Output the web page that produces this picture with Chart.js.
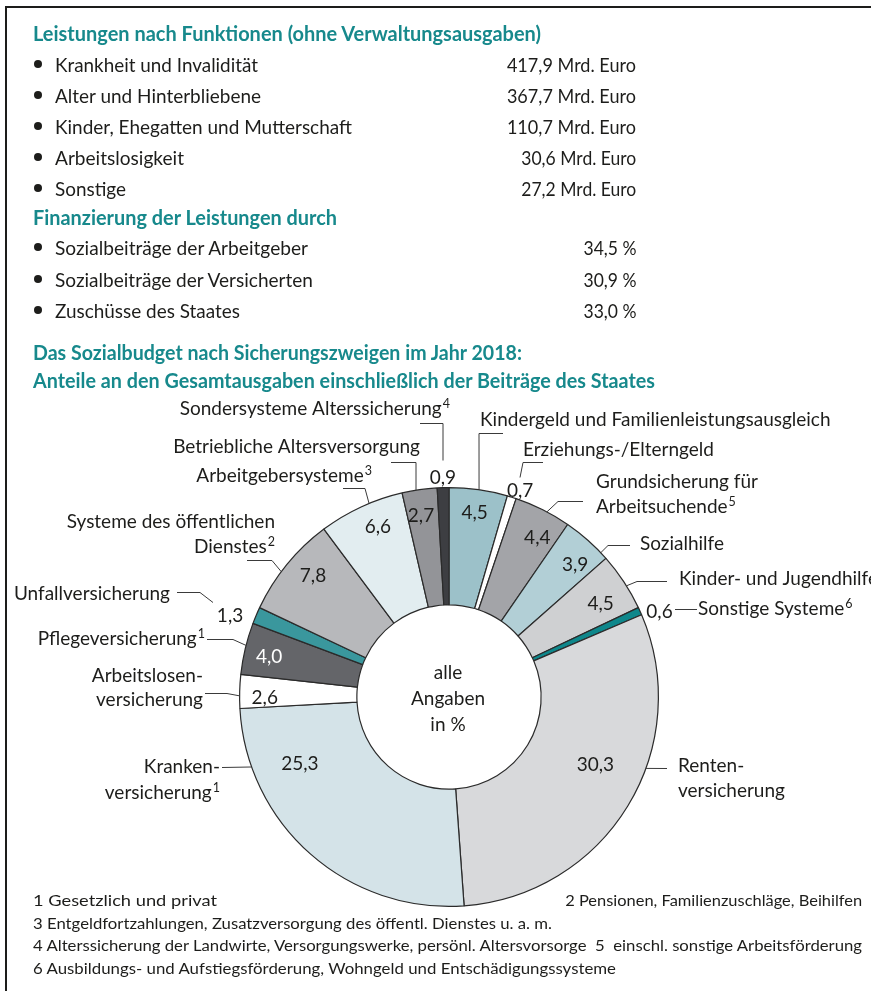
<!DOCTYPE html>
<html><head><meta charset="utf-8">
<script src="https://cdn.jsdelivr.net/npm/chart.js@4.4.0/dist/chart.umd.min.js"></script>
<style>
html,body{margin:0;padding:0;background:#fff;}
#wrap{position:relative;width:871px;height:991px;overflow:hidden;font-family:Lato,"Noto Sans",sans-serif;color:#1d1d1b;}
#c{position:absolute;left:0;top:0;}
.t{position:absolute;white-space:pre;line-height:24px;height:24px;font-size:20px;transform-origin:left center;}
.t.r{transform-origin:right center;}
.t.h{color:#17898c;font-weight:700;}
.t.f{font-size:16px;line-height:20px;height:20px;}
.b{position:absolute;width:8px;height:8px;border-radius:50%;background:#1d1d1b;}
.fl{position:absolute;left:5px;top:6px;width:2px;height:985px;background:#1d1d1b;}
.ft{position:absolute;left:5px;top:6px;width:866px;height:2px;background:#1d1d1b;}
</style></head>
<body><div id="wrap"><div class="fl"></div><div class="ft"></div><canvas id="c" width="871" height="991"></canvas></div>
<script>
// ---- data ----
const functionNames = ['Krankheit und Invalidität','Alter und Hinterbliebene','Kinder, Ehegatten und Mutterschaft','Arbeitslosigkeit','Sonstige'];
const functionValues = [417.9, 367.7, 110.7, 30.6, 27.2];
const financingNames = ['Sozialbeiträge der Arbeitgeber','Sozialbeiträge der Versicherten','Zuschüsse des Staates'];
const financingValues = [34.5, 30.9, 33.0];
const categories = [
 'Kindergeld und Familienleistungsausgleich','Erziehungs-/Elterngeld','Grundsicherung für\nArbeitsuchende^5',
 'Sozialhilfe','Kinder- und Jugendhilfe','Sonstige Systeme^6','Renten-\nversicherung','Kranken-\nversicherung^1',
 'Arbeitslosen-\nversicherung','Pflegeversicherung^1','Unfallversicherung','Systeme des öffentlichen\nDienstes^2',
 'Arbeitgebersysteme^3','Betriebliche Altersversorgung','Sondersysteme Alterssicherung^4'];
const shares = [4.5, 0.7, 4.4, 3.9, 4.5, 0.6, 30.3, 25.3, 2.6, 4.0, 1.3, 7.8, 6.6, 2.7, 0.9];
const titles = ['Leistungen nach Funktionen (ohne Verwaltungsausgaben)','Finanzierung der Leistungen durch',
 'Das Sozialbudget nach Sicherungszweigen im Jahr 2018:','Anteile an den Gesamtausgaben einschließlich der Beiträge des Staates'];
const footnotes = ['1 Gesetzlich und privat','2 Pensionen, Familienzuschläge, Beihilfen',
 '3 Entgeldfortzahlungen, Zusatzversorgung des öffentl. Dienstes u. a. m.',
 '4 Alterssicherung der Landwirte, Versorgungswerke, persönl. Altersvorsorge  5  einschl. sonstige Arbeitsförderung',
 '6 Ausbildungs- und Aufstiegsförderung, Wohngeld und Entschädigungssysteme'];
const centerText = ['alle','Angaben','in %'];

// ---- styles / layout ----
const sliceColors = ['#9cc1c9','#ffffff','#a3a4a8','#b2cfd6','#cfd0d2','#0e878b','#d8d9db','#d4e3e8',
 '#ffffff','#646569','#3a979d','#b7b8bb','#e2edf0','#939498','#3d3e42'];
const valueColors = shares.map((v,i)=> i===9 ? '#ffffff' : '#1d1d1b');
const valueFrac = [0.49,1.12,0.65,0.65,0.61,1.52,0.44,0.77,0.32,0.44,-0.06,0.586,0.588,0.43,0.51];
const valueRad  = [0.886,1.043,0.87,0.873,0.85,1.084,0.77,0.78,0.88,0.88,1.115,0.87,0.88,0.876,1.048];
const labelPos = [ // [dx, dy(baseline), align, lineGap] relative to the doughnut centre
 [31,-271,'left',25],[74,-241,'left',25],[147,-209,'left',25],[191,-147,'left',25],[230,-112,'left',25],
 [249,-82,'left',25],[229,75,'left',25],[-229,76,'right',26],[-246,-15,'right',24],[-244,-52,'right',25],
 [-279,-97,'right',25],[-174,-169,'right',25],[-77,-215,'right',25],[-29,-244,'right',25],[1,-282,'right',25]];
const leaderPaths = [
 [{arc:0.51},[30,-264],[54,-264]],
 [[71,-220],[74,-235],[94,-235]],
 [{arc:0.58},[109,-196],[134,-196]],
 [{arc:0.85},[159,-152],[181,-152]],
 [{arc:0.58},[188,-116],[218,-116]],
 [[226,-88],[248,-88]],
 [{arc:0.395},[218,71]],
 [{arc:0.82},[-227,70]],
 [{arc:0.37},[-222,-4],[-244,-4]],
 [{arc:0.56},[-216,-58],[-242,-58]],
 [[-236,-95],[-249,-105],[-272,-105]],
 [{arc:0.41},[-177,-137],[-202,-137]],
 [{arc:0.60},[-84,-209],[-106,-209]],
 [{arc:0.40},[-33,-235],[-58,-235]],
 [[-6,-237],[-6,-274],[-29,-274]]];

const fmt = v => v.toFixed(1).replace('.', ',');

// ---- HTML text ----
const wrap = document.getElementById('wrap');
function addText(txt, cls, y, opts){
  const d = document.createElement('div');
  d.className = 't ' + cls; d.textContent = txt;
  const h = cls.includes('f') ? 20 : 24;
  d.style.top = (y - h/2) + 'px';
  if (opts.right !== undefined) d.style.right = (871 - opts.right) + 'px';
  else d.style.left = opts.left + 'px';
  if (opts.w) d.dataset.w = opts.w;
  wrap.appendChild(d);
}
function addBullet(y){ const b=document.createElement('div'); b.className='b'; b.style.left='34px'; b.style.top=(y-4)+'px'; wrap.appendChild(b); }
const fnY = [64,95,126,157,188], fnW = [203,206,297,129,71];
const fiY = [247,279,310], fiW = [253,258,185];
addText(titles[0],'h',33,{left:33,w:508});
functionNames.forEach((n,i)=>{ addBullet(fnY[i]); addText(n,'',fnY[i],{left:55,w:fnW[i]});
  addText(fmt(functionValues[i])+' Mrd. Euro','r',fnY[i],{right:636,w:i<3?129:115}); });
addText(titles[1],'h',217,{left:33,w:304});
financingNames.forEach((n,i)=>{ addBullet(fiY[i]); addText(n,'',fiY[i],{left:55,w:fiW[i]});
  addText(fmt(financingValues[i])+' %','r',fiY[i],{right:636,w:53}); });
addText(titles[2],'h',352,{left:33,w:489});
addText(titles[3],'h',380,{left:33,w:622});
addText(footnotes[0],'f',900,{left:33,w:184});
addText(footnotes[1],'f r',900,{right:862,w:297});
addText(footnotes[2],'f',923,{left:33,w:519});
addText(footnotes[3],'f',945,{left:33,w:829});
addText(footnotes[4],'f',968,{left:33,w:583});
document.querySelectorAll('[data-w]').forEach(el=>{
  const w = el.getBoundingClientRect().width;
  el.style.transform = 'scaleX(' + (+el.dataset.w / w) + ')';
});

// ---- chart labels ----
const LABEL_FONT = '19px Lato, "Noto Sans", sans-serif';
const SUP_FONT = '12.5px Lato, "Noto Sans", sans-serif';
function drawRich(ctx, line, x, y, align){
  const parts = line.split('^');
  ctx.font = LABEL_FONT; const w1 = ctx.measureText(parts[0]).width;
  let w2 = 0; if (parts[1]) { ctx.font = SUP_FONT; w2 = ctx.measureText(parts[1]).width + 1; }
  const x0 = align === 'right' ? x - w1 - w2 : x;
  ctx.textAlign = 'left'; ctx.textBaseline = 'alphabetic';
  ctx.font = LABEL_FONT; ctx.fillText(parts[0], x0, y);
  if (parts[1]) { ctx.font = SUP_FONT; ctx.fillText(parts[1], x0 + w1 + 1, y - 7); }
}
const labelPlugin = {
  id: 'sliceLabels',
  afterDraw(chart){
    const ctx = chart.ctx;
    const arcs = chart.getDatasetMeta(0).data;
    const cx = arcs[0].x, cy = arcs[0].y, R = arcs[0].outerRadius;
    const at = (arc, frac, r) => { const a = arc.startAngle + (arc.endAngle - arc.startAngle) * frac; return [cx + Math.cos(a) * r, cy + Math.sin(a) * r]; };
    ctx.save();
    ctx.strokeStyle = '#3a3a3a'; ctx.lineWidth = 1;
    arcs.forEach((arc, i) => {
      ctx.beginPath();
      leaderPaths[i].forEach((p, j) => {
        const pt = Array.isArray(p) ? [cx + p[0], cy + p[1] + 0.5] : at(arc, p.arc, R);
        if (j) ctx.lineTo(pt[0], pt[1]); else ctx.moveTo(pt[0], pt[1]);
      });
      ctx.stroke();
    });
    arcs.forEach((arc, i) => {
      const [x, y] = at(arc, valueFrac[i], R * valueRad[i]);
      ctx.fillStyle = valueColors[i]; ctx.font = LABEL_FONT; ctx.textAlign = 'center'; ctx.textBaseline = 'middle';
      ctx.fillText(fmt(shares[i]), x, y);
    });
    ctx.fillStyle = '#1d1d1b';
    categories.forEach((c, i) => {
      const [dx, dy, align, gap] = labelPos[i];
      c.split('\n').forEach((line, k) => drawRich(ctx, line, cx + dx, cy + dy + k * gap, align));
    });
    ctx.font = '19px Lato, "Noto Sans", sans-serif'; ctx.textAlign = 'center'; ctx.textBaseline = 'middle';
    centerText.forEach((t, k) => ctx.fillText(t, cx - 1, cy - 24 + k * 26));
    ctx.restore();
  }
};

new Chart(document.getElementById('c'), {
  type: 'doughnut',
  data: { labels: categories.map(c => c.replace('\n','').replace(/\^\d/,'')),
    datasets: [{ data: shares, backgroundColor: sliceColors, borderColor: '#2b2b2b', borderWidth: 1.2 }] },
  options: {
    responsive: false, animation: false, cutout: '44%', rotation: 0,
    layout: { padding: { left: 239, top: 487, right: 212, bottom: 84 } },
    plugins: { legend: { display: false }, tooltip: { enabled: false } }
  },
  plugins: [labelPlugin]
});
</script></body></html>
